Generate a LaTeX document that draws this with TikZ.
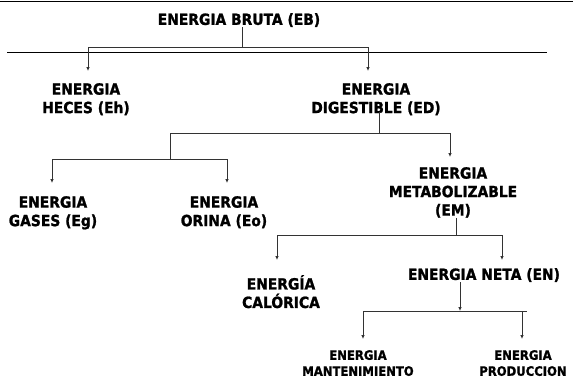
\documentclass[tikz,border=0pt]{standalone}
\usepackage{fontspec}
\setmainfont{DejaVu Sans}[FakeStretch=0.9, BoldFeatures={FakeBold=1.3}]
\usetikzlibrary{arrows.meta}
\begin{document}
\begin{tikzpicture}[x=1pt,y=-1pt,
  lbl/.style={font=\bfseries\fontsize{15.4}{18.5}\selectfont, align=center, inner sep=0pt, anchor=north},
  sml/.style={font=\bfseries\fontsize{12.9}{16}\selectfont, align=center, inner sep=0pt, anchor=north},
  ln/.style={line width=0.9pt, draw=black!80},
  arr/.style={ln, -{Latex[length=4pt,width=3.6pt]}},
  rule/.style={line width=1pt, draw=black}]
\useasboundingbox (0,0) rectangle (573,380);

% text nodes
\node[lbl] (eb)  at (239,13)  {ENERGIA BRUTA (EB)};
\node[lbl] (eh)  at (86,83)   {ENERGIA\\HECES (Eh)};
\node[lbl] (ed)  at (376,83)  {ENERGIA\\DIGESTIBLE (ED)};
\node[lbl] (eg)  at (53,196)  {ENERGIA\\GASES (Eg)};
\node[lbl] (eo)  at (224,196) {ENERGIA\\ORINA (Eo)};
\node[lbl] (em)  at (453,167) {ENERGIA\\METABOLIZABLE\\(EM)};
\node[lbl] (ec)  at (281,275) {ENERGÍA\\CALÓRICA};
\node[lbl] (en)  at (484,268) {ENERGIA NETA (EN)};
\node[sml] (ema) at (358,350) {ENERGIA\\MANTENIMIENTO};
\node[sml] (epr) at (523,350) {ENERGIA\\PRODUCCION};

% rules
\coordinate (r1a) at (0,1);   \coordinate (r1b) at (573,1);
\coordinate (r2a) at (7,52);  \coordinate (r2b) at (547,52);
\draw[rule] (r1a) -- (r1b);
\draw[rule] (r2a) -- (r2b);

% junctions and arrow ends
\coordinate (j1) at (242,47);
\coordinate (ehin) at (88,71);
\coordinate (edin) at (368,71);
\coordinate (j2) at (379,133);
\coordinate (j3) at (170,133);
\coordinate (j4) at (170,159);
\coordinate (emin) at (450,157);
\coordinate (egin) at (52,183);
\coordinate (eoin) at (227,183);
\coordinate (j5) at (456,235);
\coordinate (ecin) at (277,260);
\coordinate (enin) at (502,260);
\coordinate (j6) at (460,311);
\coordinate (j6r) at (527,311);
\coordinate (emain) at (363,339);
\coordinate (eprin) at (522,339);

% connectors
\draw[ln] (j1 |- eb.south) -- (j1);
\draw[arr] (j1) -| (ehin);
\draw[arr] (j1) -| (edin);

\draw[ln] ([yshift=3pt]j2 |- ed.south) -- (j2);
\draw[ln] (j2) -- (j3) -- (j4);
\draw[arr] (j2) -| (emin);
\draw[arr] (j4) -| (egin);
\draw[arr] (j4) -| (eoin);

\draw[ln] (j5 |- em.south) -- (j5);
\draw[arr] (j5) -| (ecin);
\draw[arr] (j5) -| (enin);

\draw[arr] (j6 |- en.south) -- (j6);
\draw[ln] (j6) -- (j6r);
\draw[arr] (j6) -| (emain);
\draw[arr] (eprin |- j6) -- (eprin);
\end{tikzpicture}
\end{document}
